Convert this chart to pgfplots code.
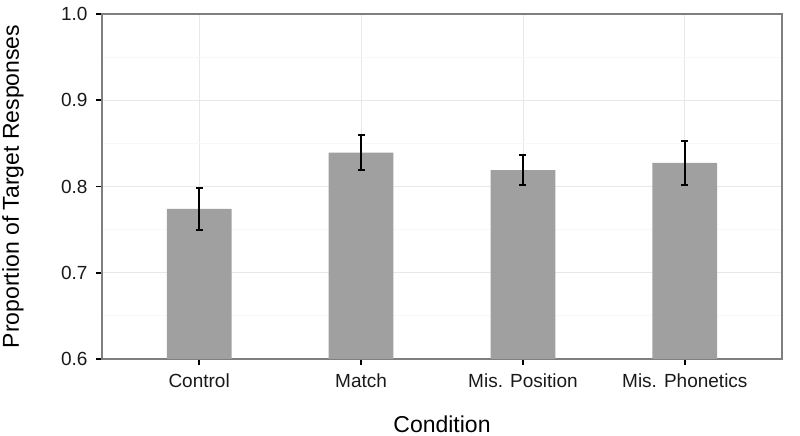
\documentclass[border=0pt]{standalone}
\usepackage{pgfplots}
\pgfplotsset{compat=1.18}
\usepackage{fontspec}
\setmainfont{Liberation Sans}
\definecolor{barfill}{RGB}{160,160,160}
\definecolor{gridmajor}{RGB}{232,232,232}
\definecolor{gridminor}{RGB}{248,248,248}
\definecolor{panelborder}{RGB}{127,127,127}
\begin{document}
\begin{tikzpicture}[x=1pt,y=1pt]
\useasboundingbox (-102,-77) rectangle (698,359);
\begin{axis}[
  at={(0,0)}, anchor=south west,
  scale only axis, width=680pt, height=345pt,
  xmin=-0.6, xmax=3.6, ymin=0.6, ymax=1.0,
  xtick={0,1,2,3},
  xticklabels={Control,Match,Mis. Position,Mis. Phonetics},
  ytick={0.6,0.7,0.8,0.9,1.0},
  minor ytick={0.65,0.75,0.85,0.95},
  /pgf/number format/fixed,
  /pgf/number format/fixed zerofill,
  /pgf/number format/precision=1,
  /pgf/number format/assume math mode=true,
  ticklabel style={font=\fontsize{19}{21}\selectfont, text=black!90},
  tick align=outside,
  major tick length=6pt,
  minor tick length=0pt,
  tick style={black, line width=1.8pt},
  xtick pos=bottom, ytick pos=left,
  xmajorgrids, ymajorgrids, yminorgrids,
  major grid style={gridmajor, line width=0.9pt},
  minor grid style={gridminor, line width=0.9pt},
  axis line style={panelborder, line width=1.4pt},
  xlabel={Condition},
  ylabel={Proportion of Target Responses},
  label style={font=\fontsize{23}{26}\selectfont},
  xlabel style={at={(rel axis cs:0.5,0)}, anchor=center, yshift=-65pt},
  ylabel style={at={(rel axis cs:0,0.5)}, anchor=center, yshift=89pt},
  xticklabel style={yshift=-5pt},
  yticklabel style={xshift=-5pt},
]
\addplot[
  ybar, bar width=0.4, bar shift=0pt, fill=barfill, draw=none,
  error bars/.cd, y dir=both, y explicit,
  error bar style={black, line width=2.4pt},
  error mark options={black, line width=2.2pt, mark size=3.5pt, rotate=90}
] table[x=x, y=y, y error=e] {
x y e
0 0.7740 0.0247
1 0.8392 0.0201
2 0.8191 0.0174
3 0.8273 0.0252
};
\end{axis}
\end{tikzpicture}
\end{document}
